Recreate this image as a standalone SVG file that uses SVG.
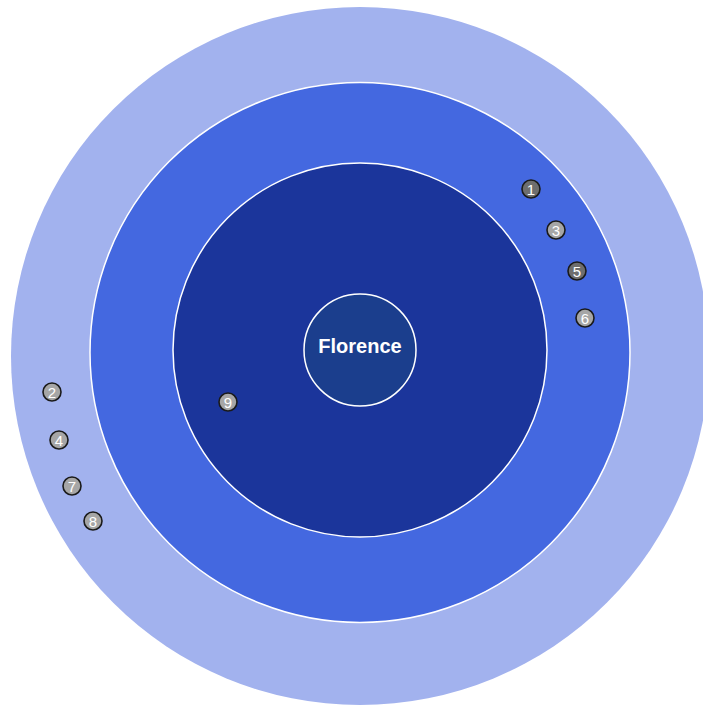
<svg xmlns="http://www.w3.org/2000/svg" width="703" height="706" viewBox="0 0 703 706">
  <style>
    .ring { stroke: #ffffff; stroke-width: 1.5; }
    .badge circle { stroke: #1a1a1a; stroke-width: 1.6; }
    .badge text { font-family: "Liberation Sans", Arial, sans-serif; font-size: 15px; fill: #ffffff; text-anchor: middle; dominant-baseline: central; }
    .light circle { fill: #a6a6a6; }
    .dark circle { fill: #6e6e6e; }
    .title { font-family: "Liberation Sans", Arial, sans-serif; font-size: 20px; font-weight: bold; fill: #ffffff; text-anchor: middle; }
  </style>
  <rect width="703" height="706" fill="#ffffff"/>

  <!-- concentric rings, outermost first -->
  <g id="ring-outer"><circle cx="360" cy="356" r="349" fill="#a2b2ee"/></g>
  <g id="ring-middle"><circle class="ring" cx="360" cy="352.5" r="270" fill="#4468e0"/></g>
  <g id="ring-inner"><circle class="ring" cx="360" cy="350" r="187" fill="#1b359b"/></g>
  <g id="center">
    <circle class="ring" cx="360" cy="350" r="56" fill="#1b3e8d"/>
    <text class="title" x="360" y="353">Florence</text>
  </g>

  <!-- numbered markers -->
  <g id="m1" class="badge dark"><circle cx="531" cy="189" r="9"/><text x="531" y="189">1</text></g>
  <g id="m2" class="badge light"><circle cx="52" cy="392" r="9"/><text x="52" y="392">2</text></g>
  <g id="m3" class="badge light"><circle cx="556" cy="230" r="9"/><text x="556" y="230">3</text></g>
  <g id="m4" class="badge light"><circle cx="59" cy="440" r="9"/><text x="59" y="440">4</text></g>
  <g id="m5" class="badge dark"><circle cx="577" cy="271" r="9"/><text x="577" y="271">5</text></g>
  <g id="m6" class="badge light"><circle cx="585" cy="318" r="9"/><text x="585" y="318">6</text></g>
  <g id="m7" class="badge light"><circle cx="72" cy="486" r="9"/><text x="72" y="486">7</text></g>
  <g id="m8" class="badge light"><circle cx="93" cy="521" r="9"/><text x="93" y="521">8</text></g>
  <g id="m9" class="badge light"><circle cx="228" cy="402" r="9"/><text x="228" y="402">9</text></g>

  <g id="connectors"></g>
</svg>
